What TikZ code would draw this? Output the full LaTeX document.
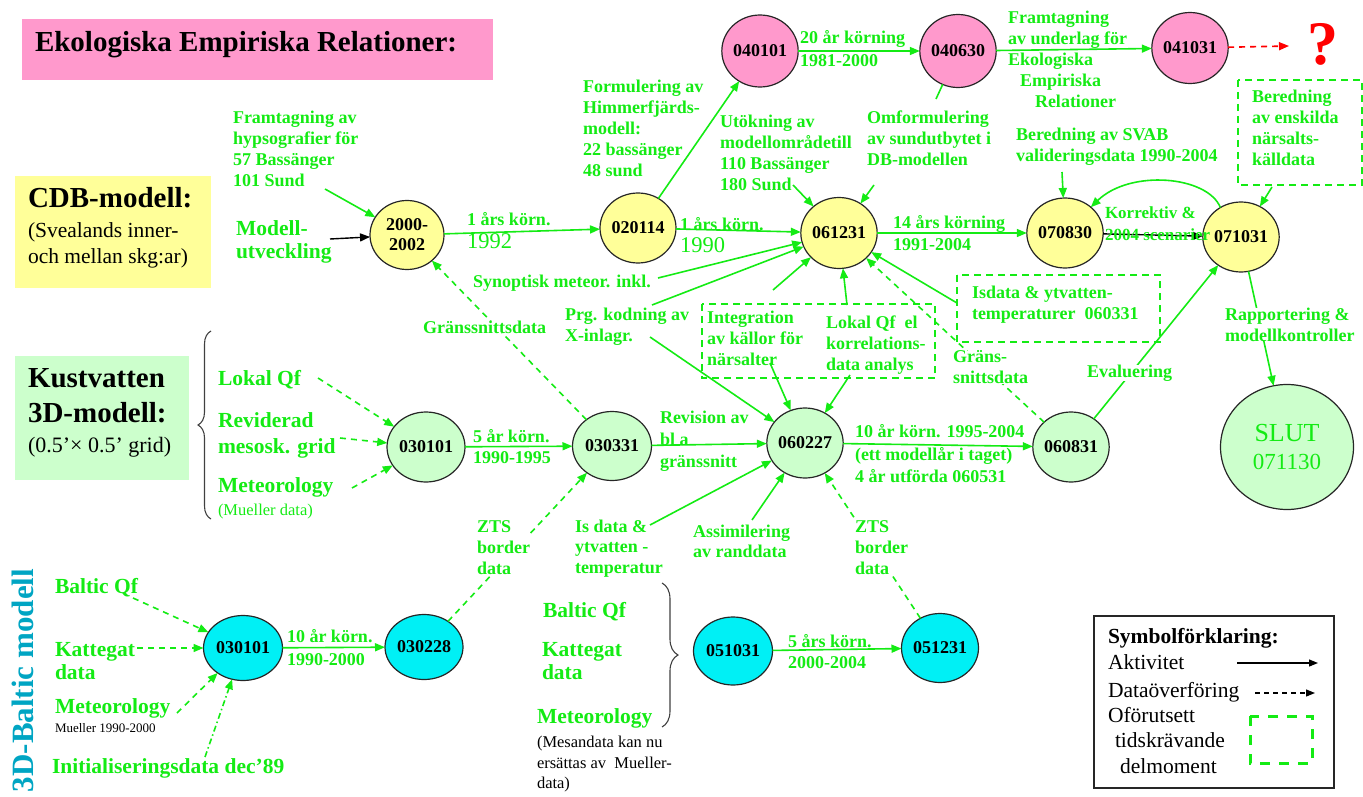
\documentclass[tikz,border=0pt]{standalone}
\usepackage{fontspec}
\setmainfont{Liberation Serif}
\usetikzlibrary{arrows.meta,decorations.pathreplacing,shapes.geometric}

\definecolor{lime}{RGB}{20,235,20}
\definecolor{titlepink}{RGB}{255,153,204}
\definecolor{cdbyellow}{RGB}{255,255,153}
\definecolor{coastgreen}{RGB}{204,255,204}
\definecolor{balticcyan}{RGB}{0,240,245}
\definecolor{balticlabel}{RGB}{0,165,195}
\definecolor{warnred}{RGB}{255,0,0}

\begin{document}
\begin{tikzpicture}[x=1pt,y=-1pt,
  every node/.style={inner sep=0pt, outer sep=0pt},
  stage/.style={ellipse, draw=black!85, line width=1.2pt, align=center,
    minimum width=75pt, minimum height=70pt,
    font=\bfseries\fontsize{18}{20}\selectfont, text=black},
  lbl/.style={text=lime, font=\bfseries\fontsize{18}{21}\selectfont,
    align=left, anchor=north west, yshift=12.2pt},
  tag/.style={text=lime, font=\bfseries\fontsize{18}{21}\selectfont, anchor=base west},
  big/.style={text=lime, font=\bfseries\fontsize{21.5}{26}\selectfont,
    align=left, anchor=north west, yshift=14.6pt},
  bigtag/.style={text=lime, font=\bfseries\fontsize{21.5}{26}\selectfont, anchor=base west},
  year/.style={text=lime, font=\fontsize{22.5}{26}\selectfont, anchor=base west},
  note/.style={text=black, font=\fontsize{16.5}{20.5}\selectfont,
    align=left, anchor=north west, yshift=11.5pt},
  legendtext/.style={text=black, font=\fontsize{21.5}{26}\selectfont, anchor=base west},
  act/.style={draw=lime, line width=1.6pt, -{Triangle[length=10pt,width=8pt]}},
  link/.style={draw=lime, line width=1.6pt},
  feed/.style={draw=lime, line width=1.6pt, dash pattern=on 6pt off 5pt,
    -{Triangle[length=10pt,width=8pt]}},
  actk/.style={draw=black, line width=1.4pt, -{Triangle[length=10pt,width=8pt]}},
  task/.style={draw=lime, line width=1.6pt, dash pattern=on 7pt off 5pt},
  blank/.style={fill=white}
]
\useasboundingbox (0,0) rectangle (1363,797);

% ---------- section headings ----------
\fill[titlepink] (22,19) rectangle (493,80);
\node[anchor=base west, font=\bfseries\fontsize{29}{34}\selectfont] (title) at (35,52)
  {Ekologiska Empiriska Relationer:};

\fill[cdbyellow] (15,176) rectangle (211,288);
\node[anchor=base west, font=\bfseries\fontsize{29}{34}\selectfont] (cdbhead) at (28,207) {CDB-modell:};
\node[anchor=base west, font=\fontsize{21.5}{26}\selectfont] (cdbsubA) at (28,237) {(Svealands inner-};
\node[anchor=base west, font=\fontsize{21.5}{26}\selectfont] (cdbsubB) at (28,263) {och mellan skg:ar)};

\fill[coastgreen] (15,356) rectangle (189,480);
\node[anchor=base west, font=\bfseries\fontsize{29}{34}\selectfont] (kustA) at (28,387) {Kustvatten};
\node[anchor=base west, font=\bfseries\fontsize{29}{34}\selectfont] (kustB) at (28,422) {3D-modell:};
\node[anchor=base west, font=\fontsize{22}{26}\selectfont] (kustC) at (28,452) {(0.5’× 0.5’ grid)};

\node[rotate=90, anchor=base west, font=\bfseries\fontsize{31}{34}\selectfont, text=balticlabel]
  (baltichead) at (34,792) {3D-Baltic modell};

% ---------- braces ----------
\coordinate (braceLlow) at (211,519);
\coordinate (braceLtop) at (211,331);
\draw[decorate, decoration={brace, amplitude=13pt}, line width=1.1pt, black!75] (braceLlow) -- (braceLtop);
\coordinate (braceRtop) at (662,583);
\coordinate (braceRlow) at (662,727);
\draw[decorate, decoration={brace, amplitude=16pt}, line width=1.1pt, black!75] (braceRtop) -- (braceRlow);

% ---------- milestones ----------
\node[stage, fill=cdbyellow, minimum width=74pt, minimum height=69pt] (c2000) at (407,235) {2000-\\2002};
\node[stage, fill=cdbyellow, minimum width=76pt] (c020114) at (638,228) {020114};
\node[stage, fill=cdbyellow, minimum width=74pt, minimum height=71pt] (c061231) at (839,233) {061231};
\node[stage, fill=cdbyellow, minimum width=74pt] (c070830) at (1065,233) {070830};
\node[stage, fill=cdbyellow, minimum width=72pt] (c071031) at (1241,237) {071031};

\node[stage, fill=titlepink, minimum height=72pt] (p040101) at (760,51) {040101};
\node[stage, fill=titlepink, minimum width=76pt, minimum height=73pt] (p040630) at (958,51) {040630};
\node[stage, fill=titlepink, minimum height=71pt] (p041031) at (1190,48) {041031};
\node[anchor=base, text=warnred, font=\bfseries\fontsize{62}{62}\selectfont] (qmark) at (1323,65) {?};

\node[stage, fill=coastgreen, minimum width=78pt] (k030101) at (426,447) {030101};
\node[stage, fill=coastgreen, minimum width=79pt, minimum height=69pt] (k030331) at (612,446) {030331};
\node[stage, fill=coastgreen] (k060227) at (805,443) {060227};
\node[stage, fill=coastgreen] (k060831) at (1071,447) {060831};
\node[stage, fill=coastgreen, minimum width=133pt, minimum height=125pt, text=lime,
  font=\fontsize{26}{28}\selectfont] (slut) at (1287,447) {SLUT\\{\fontsize{23}{28}\selectfont 071130}};

\node[stage, fill=balticcyan, minimum width=79pt, minimum height=65pt] (b030101) at (243,648) {030101};
\node[stage, fill=balticcyan, minimum width=78pt, minimum height=65pt] (b030228) at (424,647) {030228};
\node[stage, fill=balticcyan, minimum width=79pt, minimum height=68pt] (b051031) at (733,651) {051031};
\node[stage, fill=balticcyan, minimum width=77pt, minimum height=69pt] (b051231) at (940,648) {051231};

% ---------- free ends of connectors ----------
\coordinate (fromHyps) at (325,189);
\coordinate (fromDev) at (330,239);
\coordinate (toAsk) at (1289,46);
\coordinate (fromReform) at (936,99);
\coordinate (fromExt) at (793,185);
\coordinate (fromReformB) at (874,185);
\coordinate (fromSvab) at (1062,172);
\coordinate (fromSource) at (1272,187);
\coordinate (fromSynop) at (658,278);
\coordinate (fromPrgA) at (652,305);
\coordinate (fromPrgB) at (650,337);
\coordinate (fromInteg) at (773,290);
\coordinate (fromLokalEl) at (847,305);
\coordinate (fromIce) at (957,303);
\coordinate (fromIntegB) at (770,363);
\coordinate (fromCorr) at (850,375);
\coordinate (fromIsData) at (650,525);
\coordinate (fromAssim) at (752,520);
\coordinate (fromLokal) at (318,378);
\coordinate (fromGrid) at (340,438);
\coordinate (fromMet) at (352,488);
\coordinate (fromBq) at (133,598);
\coordinate (fromKat) at (137,648);
\coordinate (fromBmet) at (177,713);
\coordinate (fromInit) at (205,757);

% ---------- activities and data flows ----------
\draw[act] (fromHyps) -- (c2000);
\draw[actk] (fromDev) -- (c2000);
\draw[act] (c2000) -- (c020114);
\draw[act] (c020114) -- (c061231);
\draw[act] (c020114) -- (p040101);
\draw[act] (p040101) -- (p040630);
\draw[act] (p040630) -- (p041031);
\draw[draw=warnred, line width=1.6pt, dash pattern=on 6pt off 5pt,
  -{Triangle[length=10pt,width=8pt]}] (p041031) -- (toAsk);
\draw[link] (p040630) -- (fromReform);
\draw[act] (fromExt) -- (c061231);
\draw[act] (fromReformB) -- (c061231);
\draw[act] (c061231) -- (c070830);
\draw[act] (fromSvab) -- (c070830);
\draw[actk] (c070830) -- (c071031);
\draw[act] (c071031.125) .. controls +(-13,-32) and +(39,-38) .. (c070830.45);
\draw[act] (fromSource) -- (c071031);
\draw[act] (c071031) -- (slut);
\draw[act] (fromSynop) -- (c061231);
\draw[act] (fromPrgA) -- (c061231);
\draw[act] (fromPrgB) -- (k060227);
\draw[act] (fromInteg) -- (c061231);
\draw[act] (fromLokalEl) -- (c061231);
\draw[act] (fromIce) -- (c061231);
\draw[feed] (k060831) -- (c061231);
\draw[act] (k060831) -- (c071031);
\draw[feed] (k030331) -- (c2000);
\draw[feed] (fromLokal) -- (k030101);
\draw[feed] (fromGrid) -- (k030101);
\draw[feed] (fromMet) -- (k030101);
\draw[act] (k030101) -- (k030331);
\draw[act] (k030331) -- (k060227);
\draw[act] (k060227) -- (k060831);
\draw[act] (fromIntegB) -- (k060227);
\draw[act] (fromCorr) -- (k060227);
\draw[act] (fromIsData) -- (k060227);
\draw[act] (fromAssim) -- (k060227);
\draw[feed] (b051231) -- (k060227);
\draw[feed] (b030228) -- (k030331);
\draw[feed] (fromBq) -- (b030101);
\draw[feed] (fromKat) -- (b030101);
\draw[feed] (fromBmet) -- (b030101);
\draw[draw=lime, line width=1.6pt, dash pattern=on 6pt off 3pt on 1.5pt off 3pt,
  -{Triangle[length=10pt,width=8pt]}] (fromInit) -- (b030101);
\draw[act] (b030101) -- (b030228);
\draw[act] (b051031) -- (b051231);

% ---------- time-consuming sub-tasks ----------
\draw[task] (1238,80) rectangle (1362,185);
\draw[task] (957,275) rectangle (1160,342);
\draw[task] (702,304) rectangle (935,378);

% ---------- annotations ----------
\node[lbl] (tHyps) at (233,123) {Framtagning av\\hypsografier för\\57 Bassänger\\101 Sund};
\node[big, font=\bfseries\fontsize{21.5}{23}\selectfont] (tDev) at (236,235) {Modell-\\utveckling};
\node[tag] (tRunA) at (467,225) {1 års körn.};
\node[year] (tRunAy) at (467,248) {1992};
\node[tag] (tRunB) at (680,230) {1 års körn.};
\node[year] (tRunBy) at (680,252) {1990};
\node[lbl] (tHimm) at (583,92) {Formulering av\\Himmerfjärds-\\modell:\\22 bassänger\\48 sund};
\node[tag] (tRun20) at (800,44) {20 år körning};
\node[tag] (tRun20y) at (800,67) {1981-2000};
\node[lbl] (tEco) at (1008,23) {Framtagning\\av underlag för\\Ekologiska\\\hspace*{12pt}Empiriska\\\hspace*{27pt}Relationer};
\node[lbl] (tExt) at (720,127) {Utökning av\\modellområdetill\\110 Bassänger\\180 Sund};
\node[lbl] (tReform) at (867,123) {Omformulering\\av sundutbytet i\\DB-modellen};
\node[tag] (tRun14) at (893,228) {14 års körning};
\node[tag] (tRun14y) at (893,250) {1991-2004};
\node[lbl] (tSvab) at (1016,140) {Beredning av SVAB\\valideringsdata 1990-2004};
\node[lbl] (tSource) at (1252,102) {Beredning\\av enskilda\\närsalts-\\källdata};
\node[lbl, font=\bfseries\fontsize{17}{22}\selectfont, yshift=11.5pt] (tCorr) at (1105,230) {Korrektiv \&\\2004 scenarier};
\node[lbl, blank] (tReport) at (1225,320) {Rapportering \&\\modellkontroller};
\node[tag] (tSynop) at (473,287) {Synoptisk meteor. inkl.};
\node[lbl] (tPrg) at (565,320) {Prg. kodning av\\X-inlagr.};
\node[lbl] (tIce) at (972,298) {Isdata \& ytvatten-\\temperaturer\ \ 060331};
\node[lbl, blank] (tIfaceR) at (953,363) {Gräns-\\snittsdata};
\node[tag, blank] (tEval) at (1087,377) {Evaluering};
\node[tag, blank] (tIfaceL) at (423,333) {Gränssnittsdata};
\node[bigtag] (tLokal) at (218,385) {Lokal Qf};
\node[big] (tGrid) at (218,427) {Reviderad\\mesosk. grid};
\node[bigtag] (tMet) at (218,492) {Meteorology};
\node[anchor=base west, text=lime, font=\fontsize{16.5}{20}\selectfont] (tMueller) at (218,515) {(Mueller data)};
\node[lbl] (tInteg) at (707,323) {Integration\\av källor för\\närsalter};
\node[lbl] (tLokalEl) at (826,328) {Lokal Qf\ \ el\\korrelations-\\data analys};
\node[lbl, font=\bfseries\fontsize{18}{22}\selectfont] (tRevision) at (660,423) {Revision av\\bl a\\gränssnitt};
\node[tag] (tRun5) at (473,442) {5 år körn.};
\node[tag] (tRun5y) at (473,463) {1990-1995};
\node[lbl, font=\bfseries\fontsize{18}{22.5}\selectfont] (tRun10) at (855,437) {10 år körn. 1995-2004\\(ett modellår i taget)\\4 år utförda 060531};
\node[lbl, blank] (tZtsL) at (477,533) {ZTS\\border\\data};
\node[lbl, font=\bfseries\fontsize{18}{20.5}\selectfont] (tIsData) at (575,532) {Is data \&\\ytvatten -\\temperatur};
\node[lbl, font=\bfseries\fontsize{18}{20}\selectfont] (tAssim) at (693,537) {Assimilering\\av randdata};
\node[lbl, blank] (tZtsR) at (855,533) {ZTS\\border\\data};
\node[bigtag] (tBqR) at (543,617) {Baltic Qf};
\node[big, font=\bfseries\fontsize{21.5}{23}\selectfont] (tKatR) at (542,657) {Kattegat\\data};
\node[bigtag] (tMetR) at (537,723) {Meteorology};
\node[note] (tMesan) at (537,748) {(Mesandata kan nu\\ersättas av\ \ Mueller-\\data)};
\node[tag] (tRun5b) at (788,647) {5 års körn.};
\node[tag] (tRun5by) at (788,668) {2000-2004};
\node[bigtag] (tBqL) at (55,593) {Baltic Qf};
\node[big, font=\bfseries\fontsize{21.5}{23}\selectfont] (tKatL) at (55,657) {Kattegat\\data};
\node[bigtag] (tMetL) at (55,713) {Meteorology};
\node[anchor=base west, font=\fontsize{13}{15}\selectfont] (tMuellerL) at (55,732) {Mueller 1990-2000};
\node[bigtag] (tInit) at (52,773) {Initialiseringsdata dec’89};
\node[tag] (tRun10b) at (287,642) {10 år körn.};
\node[tag] (tRun10by) at (287,665) {1990-2000};

% ---------- legend ----------
\draw[black!85, line width=1.2pt] (1094,616) rectangle (1334,788);
\node[legendtext, font=\bfseries\fontsize{21.5}{26}\selectfont] (legHead) at (1108,643) {Symbolförklaring:};
\node[legendtext] (legAct) at (1108,669) {Aktivitet};
\node[legendtext] (legData) at (1108,697) {Dataöverföring};
\node[legendtext] (legTaskA) at (1108,722) {Oförutsett};
\node[legendtext] (legTaskB) at (1115,747) {tidskrävande};
\node[legendtext] (legTaskC) at (1120,773) {delmoment};
\coordinate (legActA) at (1237,663);
\coordinate (legActB) at (1318,663);
\coordinate (legDataA) at (1255,693);
\coordinate (legDataB) at (1315,693);
\draw[black, line width=1.2pt, -{Triangle[length=9pt,width=7pt]}] (legActA) -- (legActB);
\draw[black, line width=1.2pt, dash pattern=on 5pt off 4pt, -{Triangle[length=9pt,width=7pt]}] (legDataA) -- (legDataB);
\draw[lime, line width=3pt, dash pattern=on 10pt off 9pt] (1250,716) rectangle (1312,763);
\end{tikzpicture}
\end{document}
